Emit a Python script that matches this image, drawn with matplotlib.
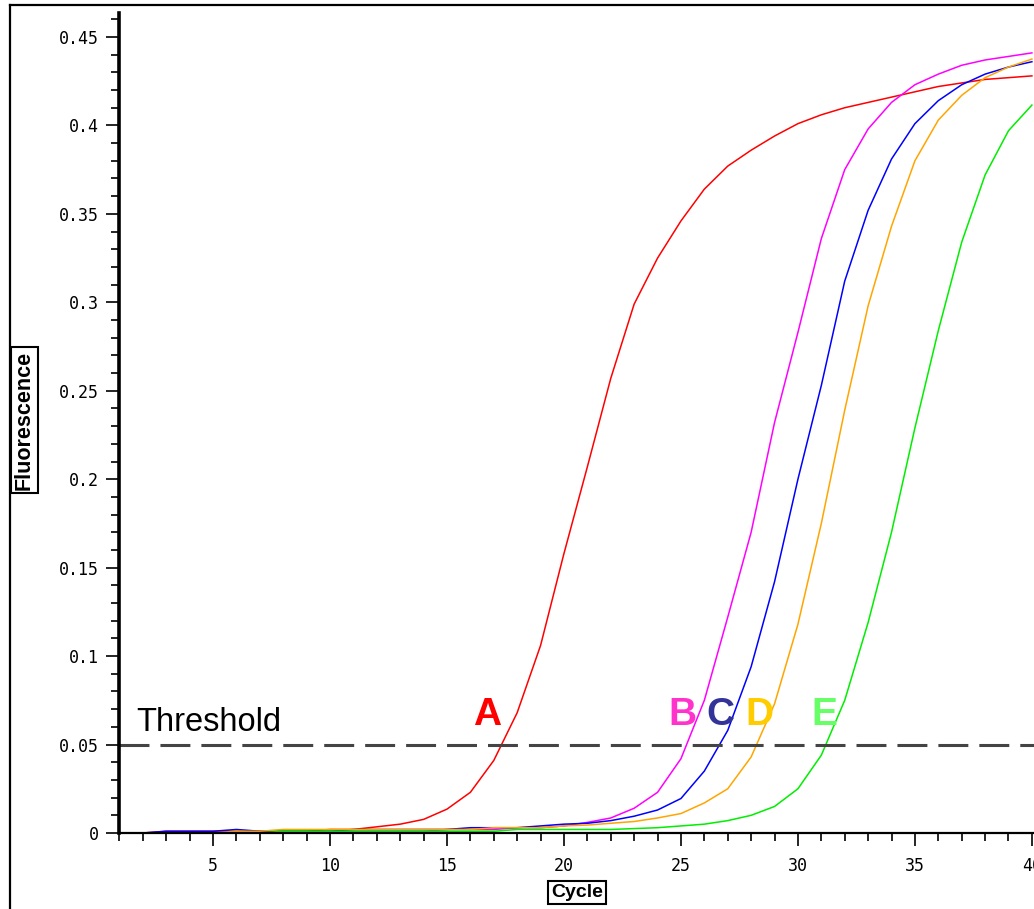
import numpy as np
import matplotlib
matplotlib.use("Agg")
import matplotlib.pyplot as plt
from matplotlib.lines import Line2D

# cycles 1..40
cycles = np.arange(1, 41)

# fluorescence, one value per cycle
curve_a = [0.000, 0.000, 0.001, 0.001, 0.001, 0.001, 0.001, 0.001, 0.001, 0.002,
           0.002, 0.0035, 0.005, 0.0077, 0.0135, 0.023, 0.041, 0.068, 0.106, 0.158,
           0.207, 0.257, 0.299, 0.325, 0.346, 0.364, 0.377, 0.386, 0.394, 0.401,
           0.406, 0.410, 0.413, 0.416, 0.419, 0.422, 0.424, 0.426, 0.427, 0.428]
curve_b = [0.000, 0.000, 0.000, 0.000, 0.000, 0.000, 0.000, 0.000, 0.000, 0.001,
           0.001, 0.001, 0.001, 0.001, 0.002, 0.002, 0.002, 0.003, 0.003, 0.004,
           0.006, 0.0085, 0.014, 0.023, 0.042, 0.075, 0.122, 0.170, 0.232, 0.283,
           0.336, 0.375, 0.398, 0.413, 0.423, 0.429, 0.434, 0.437, 0.439, 0.441]
curve_c = [0.000, 0.000, 0.001, 0.001, 0.001, 0.002, 0.001, 0.001, 0.001, 0.001,
           0.002, 0.002, 0.002, 0.002, 0.002, 0.003, 0.003, 0.003, 0.004, 0.005,
           0.0055, 0.007, 0.0095, 0.013, 0.0195, 0.035, 0.058, 0.094, 0.142, 0.200,
           0.253, 0.312, 0.352, 0.381, 0.401, 0.414, 0.423, 0.429, 0.433, 0.436]
curve_d = [0.000, 0.000, 0.000, 0.000, 0.000, 0.001, 0.001, 0.002, 0.002, 0.002,
           0.002, 0.002, 0.002, 0.002, 0.002, 0.002, 0.003, 0.003, 0.003, 0.004,
           0.0045, 0.0055, 0.0065, 0.0085, 0.011, 0.017, 0.025, 0.043, 0.073, 0.118,
           0.175, 0.239, 0.298, 0.343, 0.380, 0.403, 0.417, 0.427, 0.433, 0.4375]
curve_e = [0.000, 0.000, 0.000, 0.000, 0.000, 0.000, 0.000, 0.001, 0.001, 0.001,
           0.001, 0.001, 0.001, 0.001, 0.001, 0.001, 0.001, 0.002, 0.002, 0.002,
           0.002, 0.002, 0.0025, 0.003, 0.004, 0.005, 0.007, 0.010, 0.015, 0.025,
           0.044, 0.075, 0.119, 0.170, 0.229, 0.284, 0.334, 0.372, 0.397, 0.4115]

curve_colors = ["#ff0000", "#ff00ff", "#0000ff", "#ffa500", "#00ee00"]

threshold = 0.05

labels = ["A", "B", "C", "D", "E"]
label_x = [16.71, 25.08, 26.7, 28.36, 31.15]
label_colors = ["#ff0000", "#ff33cc", "#333399", "#ffcc00", "#66ff66"]

y_ticks = [0, 0.05, 0.1, 0.15, 0.2, 0.25, 0.3, 0.35, 0.4, 0.45]
y_tick_labels = ["0", "0.05", "0.1", "0.15", "0.2", "0.25", "0.3", "0.35", "0.4", "0.45"]
x_ticks = [5, 10, 15, 20, 25, 30, 35, 40]

fig = plt.figure(figsize=(10.34, 9.09), dpi=100)
ax = fig.add_axes([0.1155, 0.0836, 0.8845, 0.902])

for ys, col in zip([curve_a, curve_b, curve_c, curve_d, curve_e], curve_colors):
    ax.plot(cycles, ys, color=col, lw=1.1)

ax.axhline(threshold, color="#444444", lw=2.2, dashes=(9.8, 3.6))
ax.text(1.71, 0.0577, "Threshold", fontsize=23.5, family="Liberation Sans",
        color="black", va="baseline", ha="left")

for lab, lx, lc in zip(labels, label_x, label_colors):
    ax.text(lx, 0.061, lab, fontsize=28, fontweight="bold", family="Liberation Sans",
            color=lc, ha="center", va="baseline")

ax.set_xlim(1, 40.09)
ax.set_ylim(0, 0.4635)

ax.set_yticks(y_ticks)
ax.set_yticklabels(y_tick_labels)
ax.set_yticks(np.arange(0, 0.465, 0.01), minor=True)
ax.set_xticks(x_ticks)
ax.set_xticks(np.arange(1, 41, 1), minor=True)

for s in ["top", "right"]:
    ax.spines[s].set_visible(False)
ax.spines["left"].set_linewidth(2.6)
ax.spines["bottom"].set_linewidth(1.6)

ax.tick_params(axis="both", which="major", direction="out", length=9.5, width=1.2,
               labelsize=12, color="black")
ax.tick_params(axis="both", which="minor", direction="out", length=5.5, width=1.2)
ax.tick_params(axis="x", which="major", pad=8)
ax.tick_params(axis="y", which="major", pad=5)
for t in ax.get_xticklabels() + ax.get_yticklabels():
    t.set_family("DejaVu Sans Mono")

box = dict(boxstyle="square,pad=0.15", fc="white", ec="black", lw=1.5)
fig.text(0.0237, 0.538, "Fluorescence", rotation=90, fontsize=15.5, fontweight="bold",
         family="Liberation Sans", ha="center", va="center", bbox=box)
fig.text(0.558, 0.018, "Cycle", fontsize=14, fontweight="bold",
         family="Liberation Sans", ha="center", va="center", bbox=box)

# outer frame (left and top edges visible)
fig.add_artist(Line2D([0.0097, 0.0097], [0, 0.9945], color="black", lw=1.6,
                      transform=fig.transFigure))
fig.add_artist(Line2D([0.0097, 1], [0.9945, 0.9945], color="black", lw=1.6,
                      transform=fig.transFigure))

fig.savefig("out.png", dpi=100)
plt.close(fig)
